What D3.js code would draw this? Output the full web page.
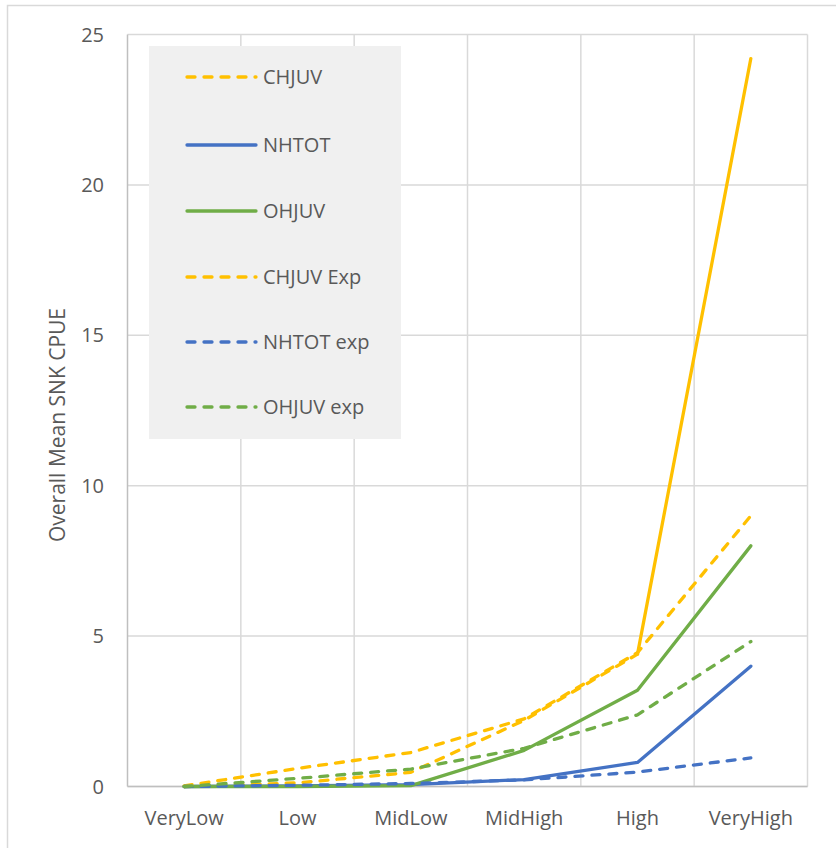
<!DOCTYPE html>
<html><head><meta charset="utf-8">
<script src="https://cdn.jsdelivr.net/npm/d3@7"></script>
<style>body{margin:0;background:#fff;} svg{display:block;}</style>
</head><body>
<svg id="c" width="836" height="848"></svg>
<script>
const categories = ["VeryLow","Low","MidLow","MidHigh","High","VeryHigh"];
const yTicks = [0,5,10,15,20,25];
const chjuv     = [0, 0.12, 0.47, 2.2, 4.4, 24.2];
const nhtot     = [0, 0.02, 0.06, 0.23, 0.8, 4.0];
const ohjuv     = [0, 0.0, 0.03, 1.2, 3.2, 8.0];
const chjuvExp  = [0.02, 0.6, 1.13, 2.25, 4.45, 9.0];
const nhtotExp  = [0, 0.04, 0.1, 0.22, 0.48, 0.95];
const ohjuvExp  = [0, 0.27, 0.58, 1.27, 2.38, 4.82];
const seriesNames = ["CHJUV","NHTOT","OHJUV","CHJUV Exp","NHTOT exp","OHJUV exp"];

const ORANGE="#FFC000", BLUE="#4472C4", GREEN="#70AD47";
const series = [
  {name:seriesNames[0], vals:chjuv, color:ORANGE, dash:true, solidFrom:4},
  {name:seriesNames[1], vals:nhtot, color:BLUE, dash:false},
  {name:seriesNames[2], vals:ohjuv, color:GREEN, dash:false},
  {name:seriesNames[3], vals:chjuvExp, color:ORANGE, dash:true},
  {name:seriesNames[4], vals:nhtotExp, color:BLUE, dash:true},
  {name:seriesNames[5], vals:ohjuvExp, color:GREEN, dash:true}
];
const DASH="8,9";
const SW=3.3;
const FONT="'Open Sans', 'Noto Sans', sans-serif";
const svg = d3.select("#c");
svg.append("rect").attr("x",7.5).attr("y",5.5).attr("width",900).attr("height",900)
  .attr("fill","#fff").attr("stroke","#D9D9D9").attr("stroke-width",1.5);

const L=127.5, R=807.5, T=34.5, B=786.5;
const x = d3.scaleBand().domain(categories).range([L,R]).padding(0);
const y = d3.scaleLinear().domain([0,25]).range([B,T]);
const cx = d => x(d)+x.bandwidth()/2;

const g = svg.append("g");
g.selectAll("line.hg").data(yTicks).join("line")
  .attr("x1",L).attr("x2",R).attr("y1",d=>y(d)).attr("y2",d=>y(d))
  .attr("stroke","#D9D9D9").attr("stroke-width",1.5);
g.selectAll("line.vg").data(categories.slice(1)).join("line")
  .attr("x1",d=>x(d)).attr("x2",d=>x(d)).attr("y1",T).attr("y2",B)
  .attr("stroke","#D9D9D9").attr("stroke-width",1.5);
g.append("line").attr("x1",R).attr("x2",R).attr("y1",T).attr("y2",B).attr("stroke","#D9D9D9").attr("stroke-width",1.5);
g.append("line").attr("x1",L).attr("x2",L).attr("y1",T).attr("y2",B).attr("stroke","#BFBFBF").attr("stroke-width",1.5);
g.append("line").attr("x1",L).attr("x2",R).attr("y1",B).attr("y2",B).attr("stroke","#BFBFBF").attr("stroke-width",1.5);

g.selectAll("text.yt").data(yTicks).join("text")
  .attr("x",104).attr("y",d=>y(d)).attr("dy","0.35em").attr("text-anchor","end")
  .attr("font-family",FONT).attr("font-size",20).attr("fill","#595959").text(d=>d);
g.selectAll("text.xt").data(categories).join("text")
  .attr("x",d=>cx(d)).attr("y",825).attr("text-anchor","middle")
  .attr("font-family",FONT).attr("font-size",20).attr("fill","#595959").text(d=>d);
g.append("text").attr("transform","translate(65,425) rotate(-90)").attr("text-anchor","middle")
  .attr("font-family",FONT).attr("font-size",21).attr("fill","#595959").text("Overall Mean SNK CPUE");

const line = d3.line().x(d=>cx(d.c)).y(d=>y(d.v));
series.forEach(s=>{
  const pts = s.vals.map((v,i)=>({c:categories[i],v}));
  if (s.solidFrom!==undefined){
    g.append("path").attr("d",line(pts.slice(0,s.solidFrom+1))).attr("fill","none")
      .attr("stroke",s.color).attr("stroke-width",SW).attr("stroke-dasharray",DASH)
      .attr("stroke-linecap","round").attr("stroke-linejoin","round");
    g.append("path").attr("d",line(pts.slice(s.solidFrom))).attr("fill","none")
      .attr("stroke",s.color).attr("stroke-width",SW).attr("stroke-linecap","round").attr("stroke-linejoin","round");
  } else {
    g.append("path").attr("d",line(pts)).attr("fill","none")
      .attr("stroke",s.color).attr("stroke-width",SW)
      .attr("stroke-dasharray",s.dash?DASH:null)
      .attr("stroke-linecap","round").attr("stroke-linejoin","round");
  }
});

const lg = svg.append("g");
lg.append("rect").attr("x",149).attr("y",46).attr("width",252).attr("height",393).attr("fill","#F0F0F0");
const rowY = [77,145,211,277,342,407];
series.forEach((s,i)=>{
  lg.append("line").attr("x1",187).attr("x2",256).attr("y1",rowY[i]).attr("y2",rowY[i])
    .attr("stroke",s.color).attr("stroke-width",SW)
    .attr("stroke-dasharray",s.dash?DASH:null).attr("stroke-linecap","round");
  lg.append("text").attr("x",263).attr("y",rowY[i]).attr("dy","0.35em")
    .attr("font-family",FONT).attr("font-size",20).attr("fill","#595959").text(s.name);
});
</script>
</body></html>
